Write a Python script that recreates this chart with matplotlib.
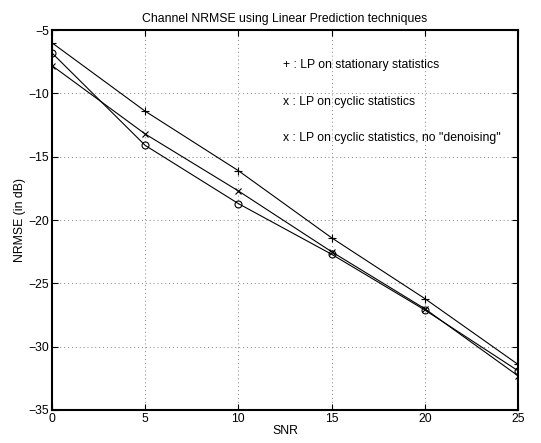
import matplotlib
matplotlib.use("Agg")
import matplotlib.pyplot as plt

plt.rcParams['font.family'] = ['Liberation Sans', 'DejaVu Sans']

# SNR values and NRMSE curves (dB)
snr = [0, 5, 10, 15, 20, 25]
lp_stationary = [-6.0, -11.4, -16.1, -21.4, -26.2, -31.4]
lp_cyclic = [-7.8, -13.2, -17.7, -22.5, -27.0, -32.3]
lp_cyclic_nodenoise = [-6.8, -14.1, -18.7, -22.7, -27.1, -31.9]

legend_lines = [
    '+ : LP on stationary statistics',
    'x : LP on cyclic statistics',
    'x : LP on cyclic statistics, no "denoising"',
]

fig = plt.figure(figsize=(5.41, 4.43), dpi=100)
ax = fig.add_axes([0.096, 0.0745, 0.8615, 0.8575])

ax.plot(snr, lp_stationary, color='black', lw=0.8, marker='+', ms=6, mew=0.8)
ax.plot(snr, lp_cyclic, color='black', lw=0.8, marker='x', ms=5, mew=0.8)
ax.plot(snr, lp_cyclic_nodenoise, color='black', lw=0.8, marker='o', ms=5,
        mew=0.8, mfc='none')

ax.set_xlim(0, 25)
ax.set_ylim(-35, -5)
ax.set_xticks(snr)
ax.set_yticks([-35, -30, -25, -20, -15, -10, -5])
ax.grid(True, linestyle=(0, (1, 3)), color='gray', lw=0.7)
ax.tick_params(direction='in', top=True, right=True, length=4, labelsize=8.8, pad=2)
for s in ax.spines.values():
    s.set_linewidth(1.5)

ax.set_title('Channel NRMSE using Linear Prediction techniques', fontsize=8.8, pad=6)
ax.set_xlabel('SNR', fontsize=8.8, labelpad=0)
ax.set_ylabel('NRMSE (in dB)', fontsize=8.8, labelpad=2)

for i, txt in enumerate(legend_lines):
    ax.text(12.4, -7.75 - i * 2.9, txt, fontsize=8.8, va='center', ha='left')

fig.savefig('out.png', dpi=100)
